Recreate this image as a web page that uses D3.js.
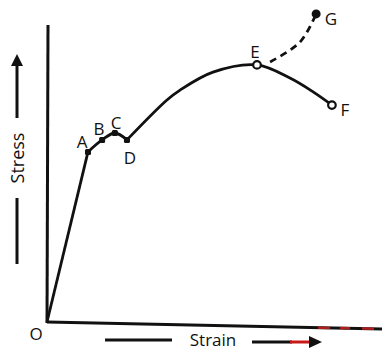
<!DOCTYPE html>
<html>
<head>
<meta charset="utf-8">
<script src="https://cdn.jsdelivr.net/npm/d3@7"></script>
<style>
  body { margin: 0; background: #fff; }
  svg { display: block; }
  text { font-family: "Open Sans", "DejaVu Sans", sans-serif; fill: #111; }
</style>
</head>
<body>
<svg id="chart" width="382" height="351"></svg>
<script>
// stress-strain curve, arbitrary units (0..100 on both axes)
var pointNames  = ["O", "A", "B", "C", "D", "E", "F"];
var pointStrain = [0, 12.2, 16.4, 20.2, 23.8, 62.5, 84.8];
var pointStress = [0, 56.7, 60.7, 63.0, 60.7, 85.7, 72.3];

// extra readings along the plastic region D -> E -> F
var curveStrain = [23.8, 35.7, 39.6, 49.4, 62.5, 72.3, 79.2, 84.8];
var curveStress = [60.7, 74.0, 77.3, 83.3, 85.7, 81.3, 76.7, 72.3];

// dashed branch E -> G
var gStrain = [66.4, 75.3, 80.1];
var gStress = [86.7, 93.3, 102.7];

var svg = d3.select("#chart");
var x = d3.scaleLinear().domain([0, 100]).range([47, 383]);
var y = d3.scaleLinear().domain([0, 100]).range([322, 22]);

var ink = "#111";

// axes (drawn by hand, no ticks)
svg.append("line")
  .attr("x1", x(0)).attr("y1", y(0) + 1)
  .attr("x2", x(0) + 1).attr("y2", 25)
  .attr("stroke", ink).attr("stroke-width", 3);
svg.append("line")
  .attr("x1", x(0)).attr("y1", y(0))
  .attr("x2", 382).attr("y2", y(0) + 7)
  .attr("stroke", ink).attr("stroke-width", 3);

// scan artefacts on the right end of the x axis
[[318, 330], [340, 350], [362, 374]].forEach(function(s) {
  svg.append("line")
    .attr("x1", s[0]).attr("x2", s[1])
    .attr("y1", y(0) + 7 * (s[0] - x(0)) / (382 - x(0)))
    .attr("y2", y(0) + 7 * (s[1] - x(0)) / (382 - x(0)))
    .attr("stroke", "#d42020").attr("stroke-width", 2.5).attr("opacity", 0.8);
});

var line = d3.line().x(function(d) { return x(d[0]); }).y(function(d) { return y(d[1]); });

// O -> A straight, A -> D small wiggle
svg.append("path")
  .datum([[pointStrain[0], pointStress[0]], [pointStrain[1], pointStress[1]]])
  .attr("d", line).attr("fill", "none").attr("stroke", ink).attr("stroke-width", 2.8);

svg.append("path")
  .datum(d3.range(1, 5).map(function(i) { return [pointStrain[i], pointStress[i]]; }))
  .attr("d", line.curve(d3.curveCatmullRom)).attr("fill", "none")
  .attr("stroke", ink).attr("stroke-width", 2.8);

svg.append("path")
  .datum(curveStrain.map(function(v, i) { return [v, curveStress[i]]; }))
  .attr("d", line.curve(d3.curveCatmullRom.alpha(0.5))).attr("fill", "none")
  .attr("stroke", ink).attr("stroke-width", 2.8);

svg.append("path")
  .datum(gStrain.map(function(v, i) { return [v, gStress[i]]; }))
  .attr("d", line.curve(d3.curveCatmullRom)).attr("fill", "none")
  .attr("stroke", ink).attr("stroke-width", 2.8)
  .attr("stroke-dasharray", "7,5");

// markers
[1, 2, 3, 4].forEach(function(i) {
  svg.append("rect")
    .attr("x", x(pointStrain[i]) - 3).attr("y", y(pointStress[i]) - 3)
    .attr("width", 6).attr("height", 6).attr("rx", 1.5).attr("fill", ink);
});
[5, 6].forEach(function(i) {
  svg.append("circle")
    .attr("cx", x(pointStrain[i])).attr("cy", y(pointStress[i]))
    .attr("r", 3.8).attr("fill", "#fff").attr("stroke", ink).attr("stroke-width", 2.2);
});
svg.append("circle")
  .attr("cx", x(gStrain[2])).attr("cy", y(gStress[2]))
  .attr("r", 4.5).attr("fill", ink);

// point labels
var labels = [
  ["A", 82, 141], ["B", 99, 128], ["C", 116, 122], ["D", 130, 157],
  ["E", 255, 51], ["F", 345, 109], ["G", 331, 18], ["O", 36, 333]
];
svg.selectAll("text.pt").data(labels).enter().append("text")
  .attr("class", "pt")
  .attr("x", function(d) { return d[1]; })
  .attr("y", function(d) { return d[2]; })
  .attr("text-anchor", "middle").attr("dominant-baseline", "central")
  .attr("font-size", 17)
  .text(function(d) { return d[0]; });

// axis titles with arrows
svg.append("text")
  .attr("transform", "translate(17,158) rotate(-90)")
  .attr("text-anchor", "middle").attr("dominant-baseline", "central")
  .attr("font-size", 18).text("Stress");
svg.append("line").attr("x1", 17).attr("x2", 17).attr("y1", 198).attr("y2", 264)
  .attr("stroke", ink).attr("stroke-width", 3);
svg.append("line").attr("x1", 17).attr("x2", 17).attr("y1", 118).attr("y2", 64)
  .attr("stroke", ink).attr("stroke-width", 3);
svg.append("path").attr("d", "M17,54 L11,66 L23,66 Z").attr("fill", ink);

svg.append("text")
  .attr("x", 213).attr("y", 339)
  .attr("text-anchor", "middle").attr("dominant-baseline", "central")
  .attr("font-size", 17).text("Strain");
svg.append("line").attr("x1", 105).attr("x2", 172).attr("y1", 340).attr("y2", 340)
  .attr("stroke", ink).attr("stroke-width", 3);
svg.append("line").attr("x1", 252).attr("x2", 292).attr("y1", 342).attr("y2", 342)
  .attr("stroke", ink).attr("stroke-width", 3);
svg.append("line").attr("x1", 290).attr("x2", 312).attr("y1", 342).attr("y2", 342)
  .attr("stroke", "#c81818").attr("stroke-width", 3);
svg.append("path").attr("d", "M322,342 L309,336 L309,348 Z").attr("fill", ink);
</script>
</body>
</html>
